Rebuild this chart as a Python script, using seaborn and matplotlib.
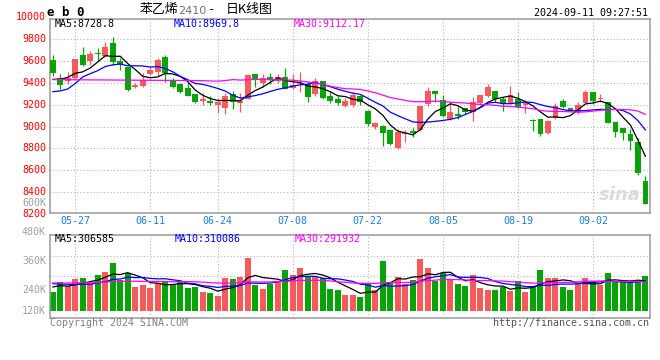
import numpy as np
import pandas as pd
import matplotlib
matplotlib.use("Agg")
import matplotlib.pyplot as plt
import matplotlib.transforms as mtransforms
import seaborn as sns

# trading days on the chart (06-10 Dragon Boat holiday has no bar)
dates = pd.bdate_range("2024-05-22", "2024-09-11", freq="C", holidays=["2024-06-10"])

open_ = [9612, 9445, 9415, 9445, 9652, 9597, 9676, 9648, 9764, 9597,
         9545, 9364, 9376, 9485, 9497, 9633, 9424, 9394, 9355, 9294,
         9237, 9234, 9197, 9173, 9298, 9219, 9252, 9482, 9402, 9457,
         9417, 9457, 9350, 9390, 9390, 9298, 9417, 9280, 9252, 9191,
         9197, 9283, 9142, 8993, 9005, 8968, 8805, 8933, 8960, 8968,
         9206, 9326, 9243, 9069, 9115, 9167, 9136, 9219, 9283, 9326,
         9249, 9213, 9249, 9197, 9060, 9069, 8944, 9078, 9237, 9173,
         9130, 9213, 9320, 9249, 9222, 9045, 8990, 8932, 8861, 8500]
high = [9652, 9485, 9500, 9620, 9733, 9694, 9718, 9779, 9824, 9627,
        9550, 9400, 9491, 9545, 9627, 9652, 9445, 9400, 9400, 9294,
        9304, 9280, 9258, 9304, 9326, 9304, 9482, 9482, 9482, 9494,
        9482, 9534, 9482, 9497, 9396, 9442, 9417, 9320, 9280, 9258,
        9320, 9289, 9152, 9045, 9014, 8974, 8975, 8970, 8990, 9190,
        9366, 9326, 9289, 9228, 9191, 9182, 9268, 9289, 9390, 9326,
        9274, 9375, 9313, 9243, 9069, 9069, 9060, 9213, 9249, 9173,
        9228, 9335, 9320, 9298, 9228, 9045, 8990, 8974, 8892, 8546]
low = [9461, 9345, 9391, 9430, 9558, 9567, 9612, 9642, 9567, 9515,
       9330, 9355, 9364, 9476, 9461, 9406, 9349, 9309, 9279, 9218,
       9197, 9197, 9121, 9115, 9160, 9136, 9250, 9365, 9365, 9390,
       9396, 9344, 9341, 9313, 9228, 9280, 9249, 9213, 9197, 9182,
       9182, 9197, 9005, 8974, 8821, 8831, 8795, 8861, 8905, 8962,
       9190, 9228, 9084, 9060, 9066, 9115, 9054, 9197, 9274, 9228,
       9145, 9207, 9167, 9121, 8962, 8916, 8932, 9069, 9167, 9145,
       9115, 9206, 9206, 9228, 9029, 8907, 8877, 8788, 8558, 8288]
close = [9491, 9385, 9445, 9618, 9567, 9667, 9661, 9733, 9588, 9573,
         9333, 9385, 9424, 9521, 9612, 9491, 9361, 9315, 9279, 9224,
         9252, 9213, 9222, 9283, 9222, 9237, 9472, 9436, 9442, 9436,
         9451, 9344, 9381, 9402, 9274, 9414, 9265, 9237, 9219, 9237,
         9289, 9228, 9023, 9029, 8944, 8840, 8950, 8945, 8938, 9188,
         9323, 9295, 9100, 9136, 9100, 9130, 9228, 9289, 9365, 9249,
         9207, 9289, 9182, 9213, 9051, 8932, 9051, 9191, 9182, 9145,
         9197, 9320, 9237, 9265, 9036, 8953, 8938, 8870, 8571, 8290]
volume_k = [264.8, 305.8, 289.4, 316.9, 322.2, 303.3, 336.0, 346.8, 383.7, 312.8,
            342.7, 285.3, 292.3, 281.2, 303.3, 308.6, 292.3, 308.6, 281.2, 285.3,
            264.8, 260.7, 248.4, 322.2, 316.9, 326.3, 404.2, 295.1, 278.7, 299.2,
            309.9, 356.6, 333.3, 363.2, 326.3, 326.3, 323.8, 275.9, 271.7, 251.3,
            251.3, 244.3, 301.7, 271.7, 390.7, 305.8, 326.3, 296.4, 312.8, 398.9,
            363.2, 308.6, 342.7, 316.9, 296.4, 288.2, 333.3, 281.2, 271.7, 271.7,
            285.3, 268.9, 308.6, 264.8, 288.2, 353.8, 322.2, 322.2, 285.3, 271.7,
            299.2, 322.2, 308.6, 292.3, 344.3, 305.8, 305.8, 301.7, 308.6, 330.4]

# estimated history before the window, only needed for the moving averages
prior_close = [9400, 9460, 9630, 9580, 9680, 9670, 9750, 9600, 9590, 9350,
               9400, 9440, 9530, 9630, 9500, 9370, 9330, 9290, 9240, 9270,
               9310, 9270, 9120, 8960, 9365, 9385, 9355, 9433, 9501]
prior_volume_k = [318, 296, 287, 331, 305, 279, 312, 296, 324, 289,
                  301, 315, 284, 298, 336, 307, 292, 281, 310, 309,
                  322, 298, 331, 305, 309, 276, 301, 288, 295]

tick_dates = ["05-27", "06-11", "06-24", "07-08", "07-22", "08-05", "08-19", "09-02"]
price_labels = [8200, 8400, 8600, 8800, 9000, 9200, 9400, 9600, 9800, 10000]
vol_labels = [120, 240, 360, 480, 600]

price_header = [("MA5:8728.8", "black"), ("MA10:8969.8", "#0000ff"), ("MA30:9112.17", "#ff00ff")]
vol_header = [("MA5:306585", "black"), ("MA10:310086", "#0000ff"), ("MA30:291932", "#ff00ff")]

RED = "#f65a5a"
GREEN = "#07a307"
GRID = "#b4b4b4"
FRAME = "#9a9a9a"
MA_COLORS = {"MA5": "black", "MA10": "#0000ff", "MA30": "#ff00ff"}

sns.set_style("white")
plt.rcParams["font.family"] = ["DejaVu Sans Mono", "Noto Sans CJK SC"]

W, H = 660, 360
fig = plt.figure(figsize=(W / 100, H / 100), dpi=100)


def box(l, t, r, b):
    return [l / W, 1 - b / H, (r - l) / W, (b - t) / H]


def ftext(x, y, s, **kw):
    kw.setdefault("va", "center")
    fig.text(x / W, 1 - y / H, s, **kw)


ax = fig.add_axes(box(50, 19, 650, 213.3))
axv = fig.add_axes(box(50, 234.7, 650, 318))

x = np.arange(len(close))
o, h, l, c = (np.array(a, dtype=float) for a in (open_, high, low, close))
colors = np.where(c >= o, RED, GREEN)

labels = dates.strftime("%m-%d")
tick_pos = [int(np.where(labels == d)[0][0]) for d in tick_dates]

# moving averages over history + window
closes_all = pd.Series(prior_close + close, dtype=float)
vols_all = pd.Series(prior_volume_k + volume_k, dtype=float)
n0 = len(prior_close)
ma_price = pd.concat([
    pd.DataFrame({"x": x, "value": closes_all.rolling(w).mean().iloc[n0:].values, "ma": f"MA{w}"})
    for w in (5, 10, 30)])
ma_vol = pd.concat([
    pd.DataFrame({"x": x, "value": vols_all.rolling(w).mean().iloc[n0:].values, "ma": f"MA{w}"})
    for w in (5, 10, 30)])

# ---- price panel
ax.set_xlim(-0.36, 79.6)
ax.set_ylim(8204, 9986)
ax.vlines(x, l, h, colors=colors, lw=0.9, zorder=2)
ax.bar(x, np.maximum(np.abs(c - o), 9), bottom=np.minimum(o, c), width=0.78,
       color=colors, linewidth=0, zorder=3)
sns.lineplot(data=ma_price, x="x", y="value", hue="ma", palette=MA_COLORS,
             legend=False, ax=ax, lw=0.9, zorder=4)

ax.set_yticks(price_labels[1:-1])
ax.set_xticks(tick_pos)
ax.set_xticklabels(tick_dates, color="#1a7fd0", fontsize=7.2)
ax.tick_params(axis="x", length=0, pad=2.2)
ax.tick_params(axis="y", length=0, labelleft=False)
ax.grid(True, color=GRID, lw=0.8, ls=(0, (1, 2)))
ax.set_xlabel("")
ax.set_ylabel("")

tr = mtransforms.blended_transform_factory(ax.transAxes, ax.transData)
for p in price_labels:
    ax.text(-4 / 600, p, str(p), transform=tr, ha="right", va="center",
            color="red", fontsize=7.2, clip_on=False)

ax.text(0.985, 0.05, "sina", transform=ax.transAxes, ha="right", va="bottom",
        color="#dcdcdc", fontsize=13, fontstyle="italic", fontweight="bold",
        family="DejaVu Sans", zorder=1)

# ---- volume panel
vol_lo, vol_hi, vol_base = 156.9, 501.4, 185.6
axv.set_xlim(ax.get_xlim())
axv.set_ylim(vol_lo, vol_hi)
axv.bar(x, np.array(volume_k) - vol_base, bottom=vol_base, width=0.8,
        color=colors, linewidth=0, zorder=2)
sns.lineplot(data=ma_vol, x="x", y="value", hue="ma", palette=MA_COLORS,
             legend=False, ax=axv, lw=0.9, zorder=4)
axv.set_yticks(np.linspace(vol_lo, vol_hi, 5)[1:-1])
axv.set_xticks(tick_pos)
axv.tick_params(length=0, labelleft=False, labelbottom=False)
axv.grid(True, color=GRID, lw=0.8, ls=(0, (1, 2)))
axv.set_xlabel("")
axv.set_ylabel("")

trv = mtransforms.offset_copy(
    mtransforms.blended_transform_factory(axv.transAxes, axv.transData),
    fig=fig, x=-4, y=3, units="dots")
for v in vol_labels:
    axv.text(0, max(v, vol_lo - 5), f"{v}K", transform=trv, ha="right", va="bottom",
             color="#a0a0a0", fontsize=7.2, clip_on=False)

for a in (ax, axv):
    for s in a.spines.values():
        s.set_visible(True)
        s.set_color(FRAME)
        s.set_linewidth(1.1)

# ---- header / footer texts
for (s, col), px in zip(price_header, (55, 174, 294)):
    ftext(px, 24.3, s, color=col, fontsize=7.2)
for (s, col), px in zip(vol_header, (55, 175, 295)):
    ftext(px, 238.6, s, color=col, fontsize=7.2)

ftext(47, 12, "e b 0", fontsize=9, fontweight="bold", color="black")
ftext(140, 10, "苯乙烯", fontsize=9.3, family="Noto Sans CJK SC", color="black")
ftext(178, 10.5, "2410", fontsize=8, family="DejaVu Sans", color="#707070")
ftext(208, 10, "-", fontsize=9, color="black")
ftext(226, 10, "日K线图", fontsize=9.3, family="Noto Sans CJK SC", color="black")
ftext(648, 12.7, "2024-09-11 09:27:51", ha="right", fontsize=7.2, color="black")
ftext(50, 323.3, "Copyright 2024 SINA.COM", fontsize=7.2, color="#808080")
ftext(649, 323.3, "http://finance.sina.com.cn", ha="right", fontsize=7.2, color="#555555")

fig.savefig("out.png", dpi=100, facecolor="white")
